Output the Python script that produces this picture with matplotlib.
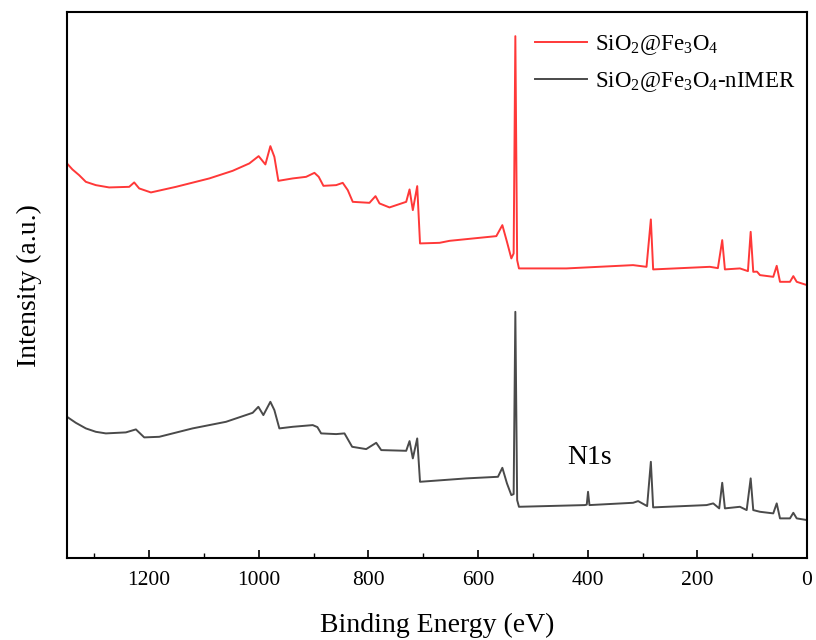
import matplotlib
matplotlib.use("Agg")
import matplotlib.pyplot as plt
from matplotlib.ticker import MultipleLocator

plt.rcParams['font.family'] = ['Liberation Serif', 'DejaVu Serif']
plt.rcParams['mathtext.fontset'] = 'custom'
plt.rcParams['mathtext.rm'] = 'Liberation Serif'
plt.rcParams['mathtext.it'] = 'Liberation Serif:italic'

# Binding energy (eV) and intensity (a.u.)
be_red = [1350, 1340.1, 1327.9, 1315.6, 1297.4, 1273.1, 1236.5, 1227.4, 1218.3, 1196.9,
          1151.2, 1090.4, 1047.9,
          1017.4, 1000.4, 988.1, 979.0, 971.7, 964.4, 938.3, 913.8, 898.6, 890.8,
          882.2, 859.0, 847.0, 837.8, 828.7, 798.2, 787.2, 779.9, 761.7, 731.2,
          725.1, 719.1, 711.1, 706.0, 670.3, 652.1, 566.8, 555.8, 547.4, 539.4,
          535.2, 532.1, 528.8, 525.5, 438.9, 317.3, 292.8, 284.9, 280.7, 177.2,
          162.6, 154.7, 149.8, 122.4, 107.8, 102.8, 98.1, 91.3, 85.8, 61.6,
          55.3, 49.3, 31.1, 25.0, 18.8, 0]
int_red = [394.7, 388.7, 383, 376.3, 373, 370.7, 371.3, 375.7, 369.7, 365.7,
           371.3, 379.7, 387.3,
           394.7, 402, 393.7, 412, 401.3, 377.3, 379.7, 381.3, 385.3, 381.3,
           372.3, 373, 375.3, 368, 356.3, 355.3, 362, 354.7, 350.7, 356.3,
           368.7, 348, 372, 314.7, 315.3, 317.3, 322, 333, 316.3, 299.7,
           304.7, 522, 298, 289.7, 289.7, 293, 291.3, 338.7, 288.7, 291.3,
           290, 318, 288.7, 289.7, 287, 326.3, 286.3, 286.5, 283, 281.3,
           292.3, 276.3, 276.3, 282, 276.3, 273]

be_gray = [1350, 1333.9, 1315.6, 1297.4, 1279.1, 1242.6, 1224.3, 1209.1, 1181.7, 1120.9,
           1059.9, 1011.3,
           1000.9, 991.8, 979.0, 971.7, 962.6, 938.3, 901.7, 893.2, 886.4, 859.0,
           843.8, 829.8, 804.2, 785.9, 776.8, 731.2, 725.1, 719.1, 711.1, 706.0,
           621.6, 563.8, 555.8, 547.4, 539.4, 535.2, 532.1, 528.8, 525.5, 405.5,
           401.8, 399.5, 396.9, 317.3, 308.1, 291.7, 284.9, 280.7, 183.2, 171.1,
           160.2, 154.7, 149.8, 122.4, 110.1, 102.8, 98.1, 85.8, 61.6, 55.3,
           49.3, 31.1, 25.0, 18.8, 0]
int_gray = [141.3, 135.3, 129.7, 126.3, 124.7, 125.7, 128.7, 120.7, 121.3, 129.7,
            136.3, 145.3,
            151.3, 143, 156.3, 148, 129.7, 131.3, 133, 131, 124.7, 124,
            124.7, 111.3, 109, 115.3, 108, 107.3, 117, 99.7, 119.7, 76.3,
            79.7, 81.3, 90.3, 74.7, 63, 64, 246.3, 58, 51.3, 53,
            53.5, 66.3, 53, 55.3, 57, 52, 96.3, 50.7, 53, 54.7,
            49.7, 75.3, 49.7, 51.3, 48, 79.7, 48, 46.3, 44.7, 54.7,
            39.7, 39.7, 45.3, 39.7, 38]

labels = [r'SiO$_\mathregular{2}$@Fe$_\mathregular{3}$O$_\mathregular{4}$',
          r'SiO$_\mathregular{2}$@Fe$_\mathregular{3}$O$_\mathregular{4}$-nIMER']
colors = ['#FF3838', '#4A4A4A']
xticks = [1200, 1000, 800, 600, 400, 200, 0]

fig = plt.figure(figsize=(8.16, 6.4), dpi=100)
ax = fig.add_axes([0.0821, 0.128, 0.9069, 0.853])

ax.plot(be_red, int_red, color=colors[0], lw=1.4, label=labels[0])
ax.plot(be_gray, int_gray, color=colors[1], lw=1.4, label=labels[1])

ax.set_xlim(1350, 0)
ax.set_ylim(0, 546)
ax.set_xticks(xticks)
ax.xaxis.set_minor_locator(MultipleLocator(100))
ax.set_yticks([])
ax.tick_params(axis='x', which='major', direction='in', length=6, width=1.2,
               labelsize=15.5, pad=9, top=False)
ax.tick_params(axis='x', which='minor', direction='in', length=3.5, width=1.0, top=False)
for s in ax.spines.values():
    s.set_linewidth(1.5)

ax.set_xlabel('Binding Energy (eV)', fontsize=20, labelpad=17)
ax.set_ylabel('Intensity (a.u.)', fontsize=20, labelpad=18)

ax.text(396, 101, 'N1s', fontsize=20, ha='center', va='center')

ax.legend(loc='upper left', bbox_to_anchor=(0.632, 0.962), frameon=False,
          fontsize=16.5, handlelength=2.3, handletextpad=0.35, borderpad=0,
          borderaxespad=0, labelspacing=0.58)

fig.savefig('out.png', dpi=100)
